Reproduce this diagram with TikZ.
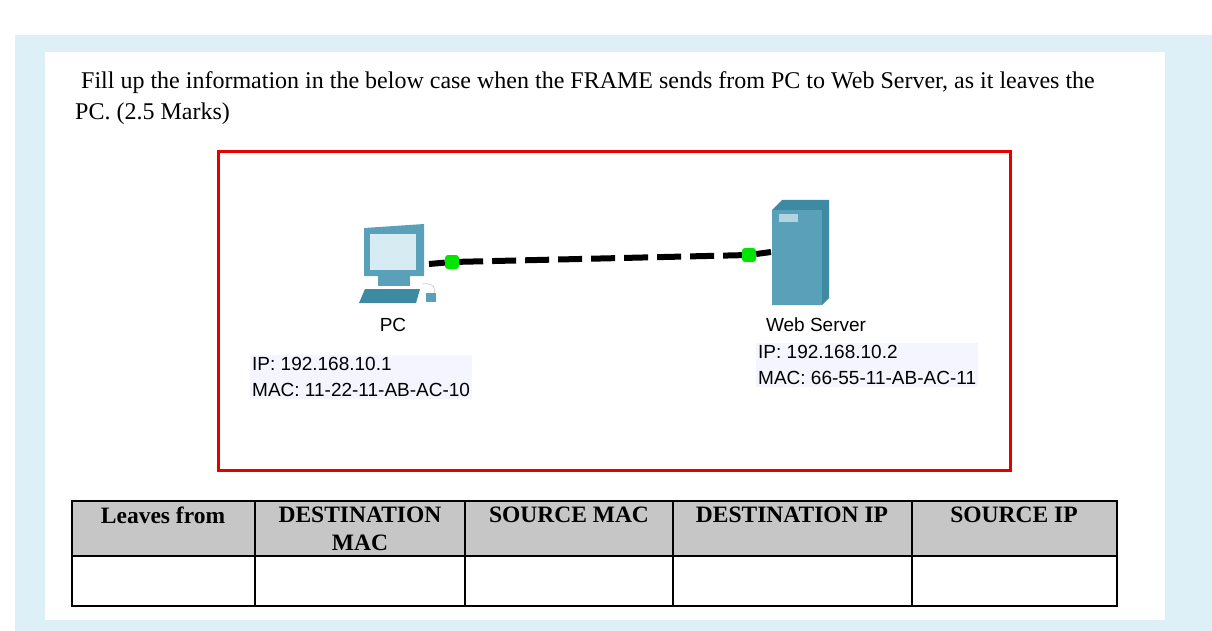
\documentclass[tikz,border=0pt]{standalone}
\usepackage{fontspec}
\setmainfont{Liberation Serif}
\newfontfamily\lab{Liberation Sans}
\definecolor{bgc}{HTML}{DDEFF7}
\definecolor{tealdev}{HTML}{5AA0B8}
\definecolor{tealdk}{HTML}{3F8AA3}
\definecolor{scr}{HTML}{D6EBF2}
\begin{document}
\begin{tikzpicture}[x=1pt,y=-1pt,
  lbl/.style={font=\lab\fontsize{19}{26}\selectfont,inner sep=2pt,align=left},
  hdr/.style={font=\bfseries\fontsize{23.5}{28}\selectfont,align=center,anchor=north},
  dot/.style={fill=green!90!black,minimum size=14pt,inner sep=0pt,rounded corners=3pt}]
\useasboundingbox (0,0) rectangle (1212,631);
\fill[white] (0,0) rectangle (1212,631);
\fill[bgc] (15,35) rectangle (1212,631);
\fill[white] (45,52) rectangle (1165,620);
\node[anchor=north west,align=left,font=\fontsize{24}{31}\selectfont,inner sep=0pt] (q) at (75,71)
 {\ Fill up the information in the below case when the FRAME sends from PC to Web Server, as it leaves the\\PC. (2.5 Marks)};
\draw[red!90!black,line width=3pt] (218,152) rectangle (1010,470);
% PC icon
\fill[tealdev] (364,228) -- (424,224) -- (424,276) -- (364,276) -- cycle;
\fill[scr] (370,234) rectangle (416,270);
\fill[tealdev] (378,276) rectangle (410,286);
\fill[tealdk] (365,289) -- (420,289) -- (416,303) -- (359,303) -- cycle;
\draw[gray!60] (422,284) .. controls (434,282) and (438,290) .. (432,296);
\fill[tealdev] (426,293) rectangle (436,302);
\node (pc) at (395,265) {};
% server icon
\fill[tealdk] (772,210) -- (782,200) -- (829,200) -- (829,298) -- (822,305) -- (772,305) -- cycle;
\fill[tealdev] (772,210) rectangle (822,305);
\fill[scr!70!tealdev] (779,214) rectangle (798,222);
\node (srv) at (797,252) {};
\coordinate (pa) at (429,264);
\coordinate (sa) at (771,252);
\node[dot] (d1) at (452,262) {};
\node[dot] (d2) at (749,255) {};
\draw[line width=6pt,dash pattern=on 24pt off 9pt] (d1) -- (d2);
\draw[line width=6pt] (pa) -- (d1) (d2) -- (sa);
\node[lbl] (pcl) at (393,325) {PC};
\node[lbl] (srvl) at (816,325) {Web Server};
\node[lbl,fill=blue!4,anchor=north west] (pcip) at (250,355) {IP: 192.168.10.1\\MAC: 11-22-11-AB-AC-10};
\node[lbl,fill=blue!4,anchor=north west] (srvip) at (756,343) {IP: 192.168.10.2\\MAC: 66-55-11-AB-AC-11};
% table
\fill[gray!45] (72,501) rectangle (1117,556);
\draw[line width=1.2pt] (72,501) rectangle (1117,606);
\draw[line width=1.2pt] (72,556) -- (1117,556);
\foreach \x in {255,465,673,912} \draw[line width=1.2pt] (\x,501) -- (\x,606);
\node[hdr] (h1) at (163,503) {Leaves from};
\node[hdr] (h2) at (360,503) {DESTINATION\\MAC};
\node[hdr] (h3) at (569,503) {SOURCE MAC};
\node[hdr] (h4) at (792,503) {DESTINATION IP};
\node[hdr] (h5) at (1014,503) {SOURCE IP};
\end{tikzpicture}
\end{document}
